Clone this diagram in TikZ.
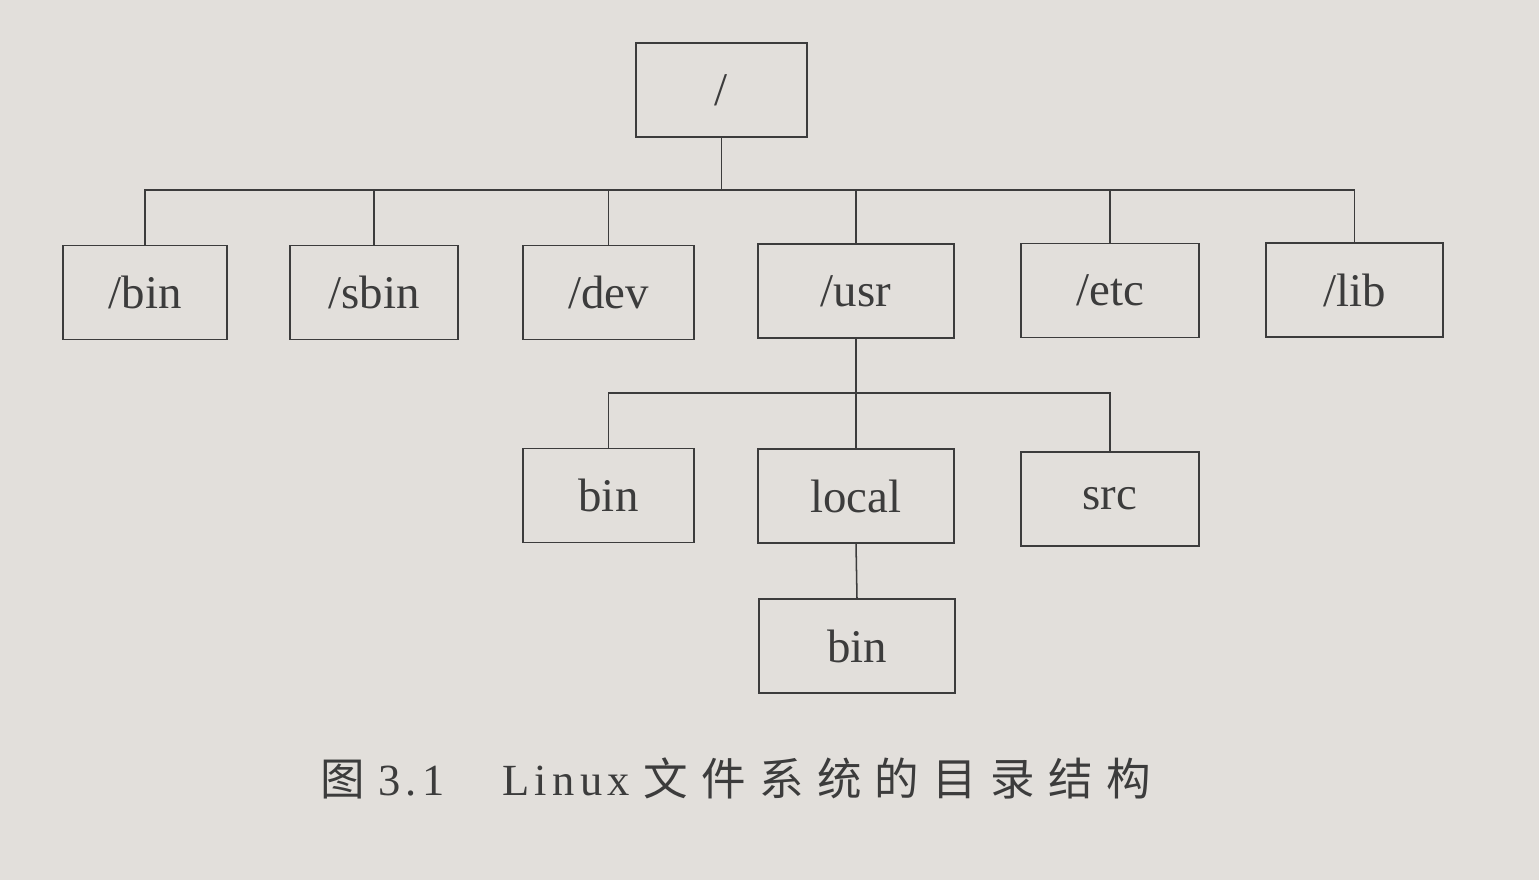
\documentclass[tikz,border=0pt]{standalone}
\usepackage{fontspec}
\setmainfont{Liberation Serif}
\newfontfamily\cjk[LetterSpace=30]{Noto Sans CJK SC}
\newfontfamily\capl[LetterSpace=12]{Liberation Serif}
\definecolor{paper}{RGB}{226,223,219}
\definecolor{ink}{RGB}{60,60,60}
\begin{document}
\begin{tikzpicture}[x=0.03cm,y=-0.03cm,
  box/.style={draw=ink,line width=1.3pt,minimum height=2.82cm,inner sep=0pt,font=\fontsize{40}{48}\selectfont,text=ink},
  link/.style={draw=ink,line width=1.3pt}]
\fill[paper] (0,0) rectangle (1539,880);
\useasboundingbox (0,0) rectangle (1539,880);
\node[box,minimum width=5.13cm] (root) at (721.5,90) {/};
\node[box,minimum width=4.92cm] (bin) at (145,292.5) {/bin};
\node[box,minimum width=5.04cm] (sbin) at (374,292.5) {/sbin};
\node[box,minimum width=5.13cm] (dev) at (608.5,292.5) {/dev};
\node[box,minimum width=5.88cm] (usr) at (856,291) {/usr};
\node[box,minimum width=5.34cm] (etc) at (1110,290.5) {/etc};
\node[box,minimum width=5.31cm] (lib) at (1354.5,290) {/lib};
\node[box,minimum width=5.13cm] (ubin) at (608.5,495.5) {bin};
\node[box,minimum width=5.88cm] (local) at (856,496) {local};
\node[box,minimum width=5.34cm] (src) at (1110,499) {src};
\node[box,minimum width=5.88cm] (lbin) at (857,646) {bin};
\coordinate (b1) at (721.5,190);
\draw[link] (root.south) -- (b1);
\draw[link] (bin.north) |- (lib.north |- b1) -- (lib.north);
\foreach \n in {sbin,dev,usr,etc} \draw[link] (\n.north) -- (\n.north |- b1);
\coordinate (b2) at (856,393);
\draw[link] (usr.south) -- (local.north);
\draw[link] (ubin.north) |- (src.north |- b2) -- (src.north);
\draw[link] (local.south) -- (lbin.north);
\node[text=ink,anchor=west,inner sep=0pt,font=\fontsize{38}{46}\selectfont] (cap) at (320,778) {{\cjk 图}\hspace{0.3em}{\capl 3.1}\hspace{1.3em}{\capl Linux}\hspace{0.3em}{\cjk 文件系统的目录结构}};
\end{tikzpicture}
\end{document}
